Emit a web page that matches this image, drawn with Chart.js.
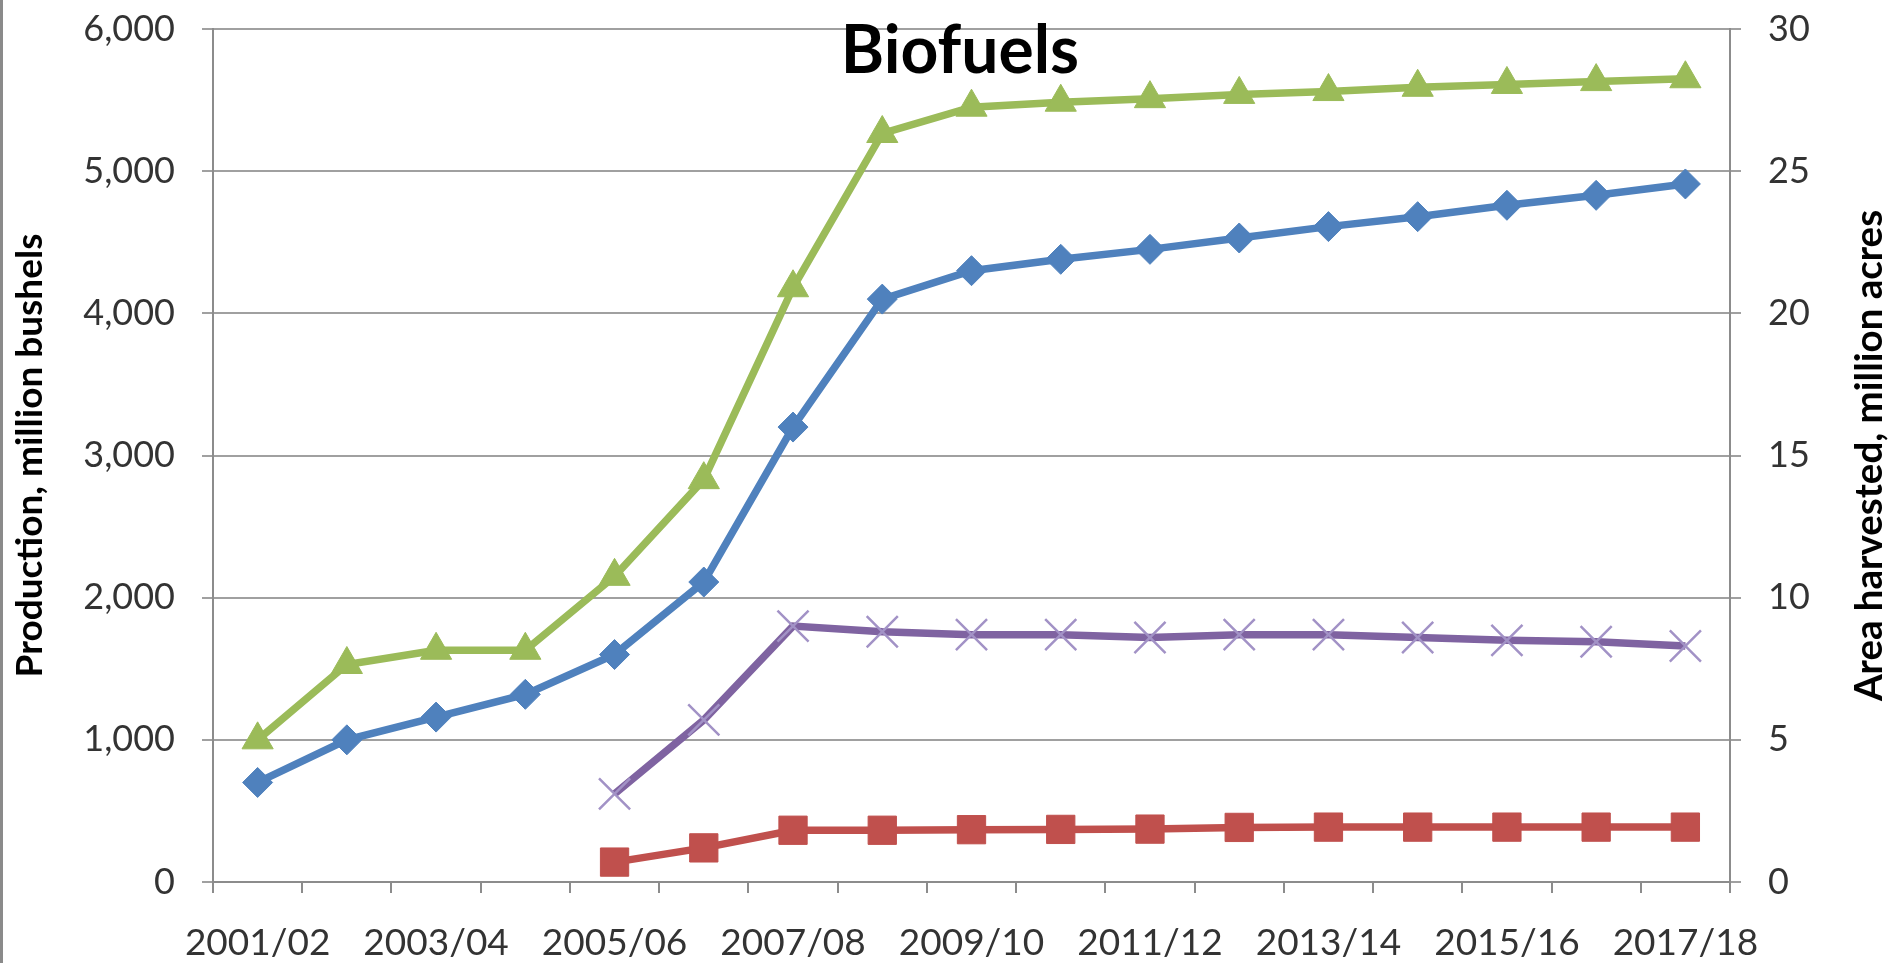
<!DOCTYPE html>
<html>
<head>
<meta charset="utf-8">
<title>Biofuels</title>
<script src="https://cdn.jsdelivr.net/npm/chart.js@4.4.1/dist/chart.umd.min.js"></script>
<style>
  html, body { margin: 0; padding: 0; background: #fff; }
  #wrap { position: relative; width: 1895px; height: 963px; }
  #edge { position: absolute; left: 0; top: 0; width: 3px; height: 963px; background: #8a8a8a; }
</style>
</head>
<body>
<div id="wrap">
  <canvas id="biofuels"></canvas>
  <div id="edge"></div>
</div>
<script>
// ============================================================
// Biofuels — production (left axis) and area harvested (right axis)
// ============================================================

const TITLE = 'Biofuels';
const LEFT_TITLE = 'Production, million bushels';
const RIGHT_TITLE = 'Area harvested, million acres';

const seasons = ['2001/02', '2002/03', '2003/04', '2004/05', '2005/06', '2006/07', '2007/08', '2008/09',
  '2009/10', '2010/11', '2011/12', '2012/13', '2013/14', '2014/15', '2015/16', '2016/17', '2017/18'];

// million bushels
const prodBlue = [700, 1000, 1160, 1320, 1600, 2110, 3200, 4100, 4300, 4380, 4450, 4530, 4610, 4680, 4760, 4830, 4910];
const prodGreen = [1000, 1530, 1630, 1630, 2150, 2830, 4180, 5265, 5450, 5485, 5510, 5540, 5560, 5590, 5610, 5630, 5650];

// million acres
const areaRed = [null, null, null, null, 0.7, 1.2, 1.82, 1.82, 1.84, 1.85, 1.86, 1.92, 1.93, 1.93, 1.93, 1.93, 1.93];
const areaPurple = [null, null, null, null, 3.1, 5.7, 9.0, 8.8, 8.7, 8.7, 8.6, 8.7, 8.7, 8.6, 8.5, 8.45, 8.3];

const FONT = 'Lato, "Open Sans", sans-serif';
const C = {
  blue: '#4f81bd',
  red: '#c0504d',
  green: '#9bbb59',
  purple: '#7f63a1',
  purpleSoft: '#a292c6',
  grid: '#a0a0a0',
  axis: '#8c8c8c',
  text: '#333333',
};

function series(data, color, axis, style, radius, extra = {}) {
  return {
    data,
    yAxisID: axis,
    borderColor: color,
    backgroundColor: color,
    borderWidth: 7.5,
    pointStyle: style,
    pointRadius: radius,
    pointBackgroundColor: color,
    pointBorderColor: color,
    pointBorderWidth: 1,
    tension: 0,
    spanGaps: false,
    clip: false,
    ...extra,
  };
}

// Chart title sits over the plot, and the right axis title reads bottom-to-top,
// neither of which Chart.js does on its own
const excelText = {
  id: 'excelText',
  afterDraw(chart) {
    const ctx = chart.ctx;
    const area = chart.chartArea;
    ctx.save();
    ctx.fillStyle = '#000';
    ctx.textAlign = 'center';
    ctx.textBaseline = 'alphabetic';
    ctx.font = `bold 66px ${FONT}`;
    ctx.fillText(TITLE, 960, 73);

    ctx.textBaseline = 'middle';
    ctx.font = `bold 38.5px ${FONT}`;
    ctx.translate(1870, (area.top + area.bottom) / 2);
    ctx.rotate(-Math.PI / 2);
    ctx.fillText(RIGHT_TITLE, 0, 0);
    ctx.restore();
  },
};

// no label padding above/below the value axes: plot top is fixed by layout.padding
function squeeze(width) {
  return s => {
    s.width = width;
    s.paddingTop = 0;
    s.paddingBottom = 0;
  };
}

const tickFont = { family: FONT, size: 36 };

new Chart(document.getElementById('biofuels'), {
  type: 'line',
  data: {
    labels: seasons,
    datasets: [
      series(prodBlue, C.blue, 'y', 'rectRot', 15),
      series(areaRed, C.red, 'y1', 'rect', 20),
      series(prodGreen, C.green, 'y', 'triangle', 18),
      series(areaPurple, C.purple, 'y1', 'crossRot', 22, {
        pointBorderColor: C.purpleSoft,
        pointBackgroundColor: C.purpleSoft,
        pointBorderWidth: 2.5,
      }),
    ],
  },
  options: {
    responsive: true,
    maintainAspectRatio: false,
    animation: false,
    events: [],
    layout: { padding: { top: 29, left: 0, right: 0, bottom: 0 } },
    plugins: {
      legend: { display: false },
      tooltip: { enabled: false },
      title: { display: false },
    },
    scales: {
      x: {
        offset: true,
        grid: { offset: true, drawOnChartArea: false, drawTicks: true, tickLength: 11, color: C.axis, lineWidth: 2 },
        border: { color: C.axis, width: 2 },
        ticks: {
          autoSkip: false,
          maxRotation: 0,
          padding: 28,
          color: C.text,
          font: { family: FONT, size: 37 },
          callback: (v, i) => (i % 2 ? '' : seasons[i]),
        },
        afterFit: s => {
          s.height = 81;
          s.paddingLeft = 0;
          s.paddingRight = 0;
        },
      },
      y: {
        position: 'left',
        min: 0,
        max: 6000,
        title: {
          display: true,
          text: LEFT_TITLE,
          color: '#000',
          padding: { top: 8, bottom: 0 },
          font: { family: FONT, size: 37, weight: 'bold' },
        },
        grid: { color: C.grid, lineWidth: 2, tickLength: 11 },
        border: { color: C.axis, width: 2 },
        ticks: { stepSize: 1000, padding: 27, color: C.text, font: tickFont },
        afterFit: squeeze(213),
      },
      y1: {
        position: 'right',
        min: 0,
        max: 30,
        grid: { drawOnChartArea: false, color: C.grid, lineWidth: 2, tickLength: 11 },
        border: { color: C.axis, width: 2 },
        ticks: { stepSize: 5, padding: 27, color: C.text, font: tickFont },
        afterFit: squeeze(165),
      },
    },
  },
  plugins: [excelText],
});
</script>
</body>
</html>
